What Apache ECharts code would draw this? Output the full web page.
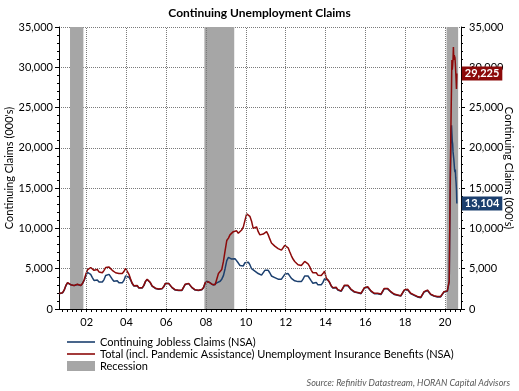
<!DOCTYPE html>
<html><head><meta charset="utf-8">
<script src="https://cdn.jsdelivr.net/npm/echarts@6/dist/echarts.min.js"></script>
<style>html,body{margin:0;padding:0;background:#fff}#c{width:519px;height:391px}</style>
</head><body><div id="c"></div>
<script>
const chartTitle = 'Continuing Unemployment Claims';
const yAxisName = "Continuing Claims (000's)";
const sourceText = 'Source: Refinitiv Datastream, HORAN Capital Advisors';
const seriesNames = ['Continuing Jobless Claims (NSA)', 'Total (incl. Pandemic Assistance) Unemployment Insurance Benefits (NSA)', 'Recession'];
const xTickLabels = [2002, 2004, 2006, 2008, 2010, 2012, 2014, 2016, 2018, 2020];
const yTicks = [0, 5000, 10000, 15000, 20000, 25000, 30000, 35000];

// monthly values, from 2000-08 to 2020-02
const monthlyStart = [2000, 8];
const blueMonthly = [
  1900,1850,2000,2350,2900,
  3250,3150,3000,2950,2900,2900,3050,2900,2900,3150,3550,4100,
  4550,4500,4300,3900,3550,3450,3600,3350,3250,3350,3650,4150,
  4350,4300,4100,3700,3450,3300,3500,3250,3150,3250,3550,4100,
  4150,3950,3600,3150,2850,2750,2900,2600,2500,2600,2900,3400,
  3650,3500,3250,2850,2650,2550,2700,2450,2400,2500,2750,3150,
  3250,3150,2950,2650,2450,2350,2550,2300,2200,2300,2500,3050,
  3250,3150,2950,2650,2450,2350,2550,2300,2300,2400,2650,3200,
  3450,3350,3250,3050,2950,2950,3250,3350,3450,3700,4150,5000,
  6000,6400,6450,6200,6100,6250,6100,5700,5400,5250,5350,5750,
  5900,5800,5500,5000,4800,4700,4850,4400,4200,4200,4400,4800,
  4900,4800,4500,4100,3900,3900,4050,3700,3600,3700,3900,4300,
  4500,4400,4200,3800,3600,3500,3700,3400,3300,3400,3700,4100,
  4200,4100,3900,3500,3200,3100,3300,3000,2900,3000,3300,3750,
  3800,3600,3300,2850,2600,2500,2650,2350,2200,2200,2400,2900,
  3000,2900,2700,2400,2200,2100,2250,2000,1900,1900,2100,2600,
  2800,2700,2500,2200,2000,1900,2050,1900,1800,1800,2000,2500,
  2600,2500,2300,2100,1900,1800,1950,1700,1600,1600,1800,2300,
  2500,2400,2200,1900,1700,1700,1750,1500,1400,1400,1600,2100,
  2300,2300,2100,1800,1700,1600,1700,1500,1400,1500,1600,2100,
  2300,2200
];
const redMonthly = [
  1920,1870,2020,2370,2920,
  3270,3170,3020,2970,2920,2920,3070,2920,2920,3170,3600,4300,
  4850,5000,5150,4950,4800,4750,4900,4600,4400,4500,4800,5150,
  5300,5200,5000,4800,4600,4500,4650,4400,4300,4400,4650,5050,
  4900,4300,3750,3200,2900,2780,2930,2630,2530,2630,2930,3430,
  3680,3530,3280,2880,2680,2580,2730,2480,2430,2530,2780,3180,
  3280,3180,2980,2680,2480,2380,2580,2330,2230,2330,2530,3080,
  3280,3180,2980,2680,2480,2380,2580,2330,2330,2430,2680,3250,
  3480,3380,3280,3080,2980,3000,3700,4400,4550,4900,5900,7200,
  8500,8800,9200,9400,9600,9650,9700,9400,9500,9800,10200,11000,
  11800,11900,11500,10900,10000,9800,10200,9600,9200,9100,9300,9500,
  9600,9200,8700,8200,8000,7800,7700,7500,7300,7300,7600,7900,
  8000,7600,7100,6600,6200,5900,5900,5500,5300,5400,5600,5900,
  5900,5600,5300,4800,4500,4400,4500,4200,4000,4150,4400,4700,
  3850,3650,3350,2900,2650,2550,2700,2400,2250,2250,2450,2950,
  3050,2950,2750,2450,2250,2150,2300,2050,1950,1950,2150,2650,
  2850,2750,2550,2250,2050,1950,2100,1950,1850,1850,2050,2550,
  2650,2550,2350,2150,1950,1850,2000,1750,1650,1650,1850,2350,
  2550,2450,2250,1950,1750,1750,1800,1550,1450,1450,1650,2150,
  2350,2350,2150,1850,1750,1650,1750,1550,1450,1550,1650,2150,
  2350,2250
];
// weekly values in 2020
const weeklyDates = ['2020-03-07','2020-03-14','2020-03-21','2020-03-28','2020-04-04','2020-04-11','2020-04-18','2020-04-25','2020-05-02','2020-05-09','2020-05-16','2020-05-23','2020-05-30','2020-06-06','2020-06-13','2020-06-20','2020-06-27','2020-07-04','2020-07-11','2020-07-18','2020-07-25','2020-08-01','2020-08-08'];
const blueWeekly = [2150,2100,3400,8200,12400,16300,18800,22400,22800,22700,20800,20500,19500,19300,18600,18000,17300,17000,17300,16300,15700,14800,13104];
const redWeekly  = [2200,2150,3500,8600,13000,17500,21000,24500,27600,30900,29700,30200,31000,32500,30900,31500,31700,31200,30500,30600,28500,27300,29225];
const recessions = [['2001-03-01','2001-11-01'], ['2007-12-01','2009-06-01'], ['2020-02-01','2020-09-01']];

const X_MIN = 2000.608, X_MAX = 2020.81;

function toYear(s) {
  const p = s.split('-').map(Number);
  const y = p[0], m = p[1], d = p[2] || 15;
  const t0 = Date.UTC(y, 0, 1), t1 = Date.UTC(y + 1, 0, 1);
  return y + (Date.UTC(y, m - 1, d) - t0) / (t1 - t0);
}
function monthlyToPairs(vals) {
  const out = [];
  let y = monthlyStart[0], m = monthlyStart[1];
  for (const v of vals) {
    out.push([toYear(y + '-' + m + '-15'), v]);
    m++; if (m > 12) { m = 1; y++; }
  }
  return out;
}
function weeklyToPairs(vals) { return weeklyDates.map((d, i) => [toYear(d), vals[i]]); }

const blueData = monthlyToPairs(blueMonthly).concat(weeklyToPairs(blueWeekly));
const redData = monthlyToPairs(redMonthly).concat(weeklyToPairs(redWeekly));

const quarterTicks = [];
for (let q = 2000.75; q <= X_MAX; q += 0.25) quarterTicks.push(Math.round(q * 100) / 100);

const FONT = 'Lato';
const BLUE = '#1B3F6E', RED = '#8C0A0A', GRAY = '#A6A6A6', GRID = '#7a7a7a';

const chart = echarts.init(document.getElementById('c'), null, {renderer: 'canvas'});
const yAxisCommon = {
  type: 'value', min: 0, max: 35000, interval: 5000,
  name: yAxisName, nameLocation: 'middle', nameMoveOverlap: false,
  nameTextStyle: {fontFamily: FONT, fontSize: 11, color: '#000'},
  axisLine: {show: true, lineStyle: {color: '#000', width: 1}},
  axisTick: {show: true, length: 4, lineStyle: {color: '#000'}},
  minorTick: {show: true, splitNumber: 5, length: 2, lineStyle: {color: '#000'}},
  axisLabel: {formatter: v => v.toLocaleString('en-US'), fontFamily: FONT, fontSize: 11, color: '#000'}
};
chart.setOption({
  animation: false,
  backgroundColor: '#fff',
  title: {text: chartTitle, left: 'center', top: 2,
    textStyle: {fontFamily: FONT, fontSize: 12, fontWeight: 'bold', color: '#000'}},
  grid: {left: 59, right: 58, top: 27, bottom: 82, containLabel: false, outerBoundsMode: 'none'},
  legend: {
    orient: 'vertical', left: 62, top: 331, itemWidth: 28, itemHeight: 10, itemGap: 0,
    textStyle: {fontFamily: FONT, fontSize: 11, color: '#000', lineHeight: 12},
    data: [
      {name: seriesNames[0], icon: 'path://M0,0 L28,0 L28,1.6 L0,1.6 Z', itemStyle: {color: BLUE}},
      {name: seriesNames[1], icon: 'path://M0,0 L28,0 L28,1.6 L0,1.6 Z', itemStyle: {color: RED}},
      {name: seriesNames[2], icon: 'rect', itemStyle: {color: GRAY}}
    ]
  },
  xAxis: {
    type: 'value', min: X_MIN, max: X_MAX,
    axisLine: {show: true, onZero: false, lineStyle: {color: '#000', width: 1}},
    axisTick: {show: true, customValues: quarterTicks, length: 3, lineStyle: {color: '#000'}},
    axisLabel: {customValues: xTickLabels, formatter: v => String(Math.round(v) % 100).padStart(2, '0'),
      fontFamily: FONT, fontSize: 11, color: '#000', margin: 8},
    splitLine: {show: false}
  },
  yAxis: [
    Object.assign({}, yAxisCommon, {position: 'left', nameRotate: 90, nameGap: 44,
      axisLabel: Object.assign({}, yAxisCommon.axisLabel, {margin: 6}),
      splitLine: {show: true, lineStyle: {type: 'dotted', color: GRID, width: 1}}}),
    Object.assign({}, yAxisCommon, {position: 'right', nameRotate: -90, nameGap: 42,
      axisLabel: Object.assign({}, yAxisCommon.axisLabel, {margin: 8}),
      splitLine: {show: false}})
  ],
  graphic: [{type: 'text', right: 9, top: 379,
    style: {text: sourceText, font: 'italic 9px ' + FONT, fill: '#595959'}}],
  series: [
    {name: seriesNames[2], type: 'line', data: [], z: 2, itemStyle: {color: GRAY}, lineStyle: {color: GRAY},
      markArea: {silent: true, itemStyle: {color: GRAY, opacity: 1},
        data: recessions.map(r => [{xAxis: toYear(r[0])}, {xAxis: toYear(r[1])}])}},
    {name: seriesNames[0], type: 'line', data: blueData, z: 3, showSymbol: false, symbol: 'none',
      lineStyle: {color: BLUE, width: 1.5}, itemStyle: {color: BLUE},
      markLine: {silent: true, symbol: ['none', 'none'], label: {show: false}, animation: false,
        lineStyle: {type: 'dotted', color: GRID, width: 1},
        emphasis: {disabled: true},
        data: xTickLabels.map(y => ({xAxis: y}))},
      endLabel: {show: true, formatter: p => p.value[1].toLocaleString('en-US'), distance: 5,
        backgroundColor: BLUE, color: '#fff', fontFamily: FONT, fontWeight: 'bold', fontSize: 11, padding: [2, 3, 1, 3]}},
    {name: seriesNames[1], type: 'line', data: redData, z: 4, showSymbol: false, symbol: 'none',
      lineStyle: {color: RED, width: 1.5}, itemStyle: {color: RED},
      endLabel: {show: true, formatter: p => p.value[1].toLocaleString('en-US'), distance: 5,
        backgroundColor: RED, color: '#fff', fontFamily: FONT, fontWeight: 'bold', fontSize: 11, padding: [2, 3, 1, 3]}}
  ]
});
</script></body></html>
